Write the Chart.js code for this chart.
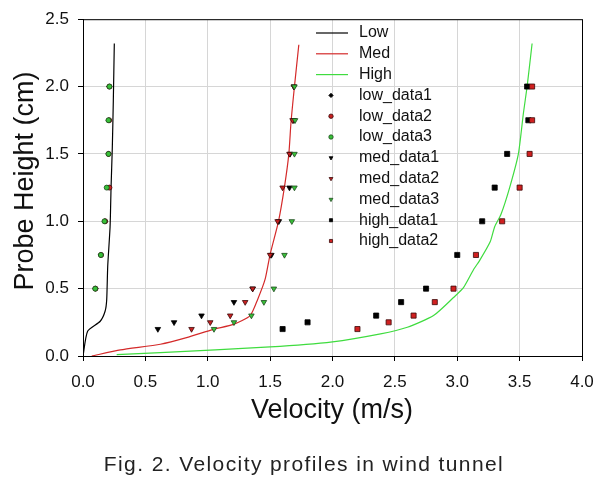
<!DOCTYPE html>
<html>
<head>
<meta charset="utf-8">
<script src="https://cdn.jsdelivr.net/npm/chart.js@4.4.1/dist/chart.umd.min.js"></script>
<style>
  body { margin: 0; background: #fff; }
  canvas { display: block; }
</style>
</head>
<body>
<canvas id="chart" width="613" height="487"></canvas>
<script>
// fitted profiles (velocity m/s vs height cm)
var lowCurveX  = [0, 0.037, 0.138, 0.177, 0.19, 0.198, 0.217, 0.225, 0.235, 0.243, 0.251];
var lowCurveY  = [0, 0.184, 0.258, 0.332, 0.418, 0.663, 0.958, 1.253, 1.548, 1.892, 2.32];
var medCurveX  = [0.07, 0.30, 0.62, 0.83, 1.045, 1.206, 1.34, 1.40, 1.46, 1.5, 1.567, 1.615, 1.65, 1.668, 1.695, 1.73];
var medCurveY  = [0, 0.045, 0.087, 0.136, 0.198, 0.235, 0.30, 0.42, 0.57, 0.755, 1.0, 1.256, 1.5, 1.744, 2.0, 2.31];
var highCurveX = [0.27, 0.62, 1.5, 2.0, 2.385, 2.6, 2.81, 2.97, 3.05, 3.13, 3.18, 3.265, 3.30, 3.35, 3.42, 3.49, 3.53, 3.56, 3.60];
var highCurveY = [0.01, 0.025, 0.067, 0.105, 0.164, 0.213, 0.30, 0.434, 0.507, 0.64, 0.71, 0.85, 0.96, 1.05, 1.25, 1.5, 1.8, 2.0, 2.32];

// measured points
var lowH = [0.5, 0.75, 1.0, 1.25, 1.5, 1.75, 2.0];
var lowData1 = [0.10, 0.14, 0.175, 0.20, 0.205, 0.205, 0.21];
var lowData2 = [0.10, 0.145, 0.178, 0.212, 0.205, 0.21, 0.212];
var lowData3 = [0.098, 0.143, 0.172, 0.19, 0.204, 0.204, 0.212];

var medH = [0.2, 0.25, 0.3, 0.4, 0.5, 0.75, 1.0, 1.25, 1.5, 1.75, 2.0];
var medData1 = [0.60, 0.73, 0.95, 1.21, 1.36, 1.51, 1.57, 1.655, 1.66, 1.69, 1.69];
var medData2 = [0.87, 1.02, 1.18, 1.30, 1.36, 1.50, 1.56, 1.60, 1.655, 1.68, 1.69];
var medData3 = [1.05, 1.21, 1.35, 1.45, 1.53, 1.615, 1.674, 1.695, 1.695, 1.70, 1.695];

var highH = [0.2, 0.25, 0.3, 0.4, 0.5, 0.75, 1.0, 1.25, 1.5, 1.75, 2.0];
var highData1 = [1.60, 1.80, 2.35, 2.55, 2.75, 3.0, 3.2, 3.3, 3.4, 3.57, 3.56];
var highData2 = [2.20, 2.45, 2.65, 2.82, 2.97, 3.15, 3.36, 3.5, 3.58, 3.6, 3.6];

var xTicks = [0, 0.5, 1.0, 1.5, 2.0, 2.5, 3.0, 3.5, 4.0];
var yTicks = [0, 0.5, 1.0, 1.5, 2.0, 2.5];

var FONT = "'Liberation Sans', Arial, sans-serif";

function pts(xs, ys) {
    return xs.map(function (x, i) { return {x: x, y: ys[i]}; });
}

function curve(label, xs, ys, color) {
    return {
        label: label, data: pts(xs, ys), showLine: true,
        borderColor: color, borderWidth: 1.2, pointRadius: 0, tension: 0.2,
        fill: false, order: 30
    };
}

// later series sit on top (lower order = drawn last)
var markOrder = 20;
function marks(label, xs, ys, fillCol, edgeCol, style, r, rot) {
    markOrder -= 1;
    return {
        label: label, data: pts(xs, ys), showLine: false,
        backgroundColor: fillCol, borderColor: edgeCol, borderWidth: 0.8,
        pointStyle: style, pointRadius: r, rotation: rot || 0, order: markOrder
    };
}

var datasets = [
    curve('Low', lowCurveX, lowCurveY, '#000000'),
    curve('Med', medCurveX, medCurveY, '#d42a2a'),
    curve('High', highCurveX, highCurveY, '#3fdc3f'),
    marks('low_data1', lowData1, lowH, '#000000', '#000000', 'rectRot', 2.5),
    marks('low_data2', lowData2, lowH, '#c82020', '#3a0a0a', 'circle', 2.5),
    marks('low_data3', lowData3, lowH, '#38c038', '#1e4a1e', 'circle', 2.5),
    marks('med_data1', medData1, medH, '#000000', '#000000', 'triangle', 3.2, 180),
    marks('med_data2', medData2, medH, '#c82020', '#3a0a0a', 'triangle', 3.2, 180),
    marks('med_data3', medData3, medH, '#38c038', '#1e4a1e', 'triangle', 3.2, 180),
    marks('high_data1', highData1, highH, '#000000', '#000000', 'rect', 3.6),
    marks('high_data2', highData2, highH, '#d02020', '#3a0a0a', 'rect', 3.6)
];

// legend, axis titles, frame and caption
var decor = {
    id: 'decor',
    afterDraw: function (chart) {
        var ctx = chart.ctx, a = chart.chartArea;
        ctx.save();
        ctx.strokeStyle = '#000';
        ctx.lineWidth = 1;
        ctx.strokeRect(a.left + 0.5, a.top + 0.5, a.right - a.left, a.bottom - a.top);

        ctx.fillStyle = '#111';
        ctx.textBaseline = 'middle';
        ctx.font = '16px ' + FONT;
        chart.data.datasets.forEach(function (ds, i) {
            var y = 33 + i * 20.8;
            if (ds.showLine) {
                ctx.strokeStyle = ds.borderColor;
                ctx.lineWidth = 1.2;
                ctx.beginPath();
                ctx.moveTo(316, y);
                ctx.lineTo(348, y);
                ctx.stroke();
            } else {
                ctx.fillStyle = ds.backgroundColor;
                ctx.strokeStyle = ds.borderColor;
                ctx.lineWidth = 0.8;
                Chart.helpers.drawPoint(ctx, {pointStyle: ds.pointStyle, rotation: ds.rotation,
                    radius: 2.2, borderWidth: 0.8}, 331, y);
            }
            ctx.fillStyle = '#111';
            ctx.textAlign = 'left';
            ctx.fillText(ds.label, 359, y);
        });

        ctx.textAlign = 'center';
        ctx.font = '27px ' + FONT;
        ctx.fillText('Velocity (m/s)', 332, 411);
        ctx.save();
        ctx.translate(26, 181);
        ctx.rotate(-Math.PI / 2);
        ctx.fillText('Probe Height (cm)', 0, 0);
        ctx.restore();

        ctx.fillStyle = '#222';
        ctx.font = '21px ' + FONT;
        ctx.letterSpacing = '1.4px';
        ctx.fillText('Fig. 2. Velocity profiles in wind tunnel', 304, 465);
        ctx.restore();
    }
};

function axis(min, max, ticks, fitKey, fitVal) {
    return {
        type: 'linear', min: min, max: max,
        afterBuildTicks: function (s) { s.ticks = ticks.map(function (v) { return {value: v}; }); },
        afterFit: function (s) { s[fitKey] = fitVal; },
        ticks: {
            color: '#111', font: {family: FONT, size: 17}, padding: 9,
            callback: function (v) { return v.toFixed(1); }
        },
        grid: {color: '#d6d6d6', tickColor: '#000', tickLength: 5, lineWidth: 1},
        border: {color: '#000', width: 1}
    };
}

var xAxis = axis(0, 4, xTicks, 'height', 131);
xAxis.ticks.padding = 11;

new Chart(document.getElementById('chart').getContext('2d'), {
    type: 'scatter',
    data: {datasets: datasets},
    options: {
        responsive: false,
        animation: false,
        layout: {padding: {top: 17, right: 31, left: 0, bottom: 0}},
        plugins: {legend: {display: false}, tooltip: {enabled: false}},
        scales: {
            x: xAxis,
            y: axis(0, 2.5, yTicks, 'width', 83)
        }
    },
    plugins: [decor]
});
</script>
</body>
</html>
